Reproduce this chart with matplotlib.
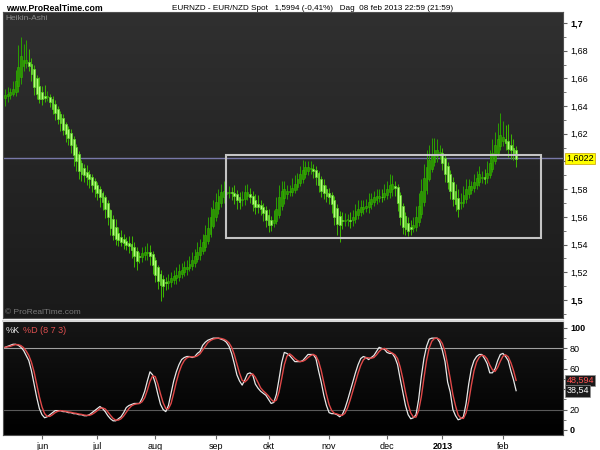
import numpy as np
import pandas as pd
import matplotlib
matplotlib.use('Agg')
import matplotlib.pyplot as plt
from matplotlib.colors import LinearSegmentedColormap
from matplotlib.patches import Rectangle

plt.rcParams['font.family'] = ['Liberation Sans', 'DejaVu Sans']

# Heikin-Ashi close per day (14 May 2012 .. 8 Feb 2013)
ha_close = [
    1.648, 1.649, 1.650, 1.652, 1.658, 1.668, 1.676, 1.673, 1.673, 1.669, 1.663, 1.654, 1.649, 1.645, 1.645,
    1.646, 1.647, 1.643, 1.638, 1.635, 1.631, 1.628, 1.623, 1.620, 1.617, 1.612, 1.605, 1.600, 1.593, 1.591,
    1.590, 1.589, 1.587, 1.583, 1.580, 1.577, 1.574, 1.571, 1.566, 1.560, 1.552, 1.547, 1.544, 1.543, 1.542,
    1.541, 1.540, 1.539, 1.536, 1.532, 1.528, 1.531, 1.534, 1.535, 1.535, 1.532, 1.525, 1.518, 1.514, 1.511,
    1.510, 1.512, 1.514, 1.516, 1.517, 1.518, 1.521, 1.522, 1.524, 1.524, 1.526, 1.529, 1.532, 1.535, 1.538,
    1.542, 1.547, 1.552, 1.560, 1.566, 1.571, 1.575, 1.578, 1.579, 1.578, 1.578, 1.577, 1.575, 1.572, 1.571,
    1.573, 1.578, 1.578, 1.574, 1.569, 1.567, 1.567, 1.566, 1.563, 1.558, 1.554, 1.554, 1.558, 1.566, 1.574,
    1.579, 1.580, 1.579, 1.578, 1.581, 1.584, 1.587, 1.591, 1.594, 1.596, 1.596, 1.595, 1.593, 1.589, 1.583,
    1.579, 1.577, 1.575, 1.574, 1.569, 1.560, 1.555, 1.554, 1.557, 1.558, 1.558, 1.557, 1.560, 1.564, 1.566,
    1.567, 1.567, 1.568, 1.571, 1.573, 1.574, 1.575, 1.575, 1.574, 1.577, 1.580, 1.583, 1.584, 1.581, 1.570,
    1.560, 1.553, 1.551, 1.550, 1.551, 1.554, 1.560, 1.568, 1.579, 1.588, 1.596, 1.601, 1.605, 1.608, 1.608,
    1.606, 1.599, 1.591, 1.585, 1.579, 1.573, 1.569, 1.566, 1.570, 1.576, 1.580, 1.582, 1.582, 1.585, 1.588,
    1.591, 1.589, 1.587, 1.592, 1.599, 1.606, 1.612, 1.616, 1.619, 1.618, 1.613, 1.609, 1.608, 1.606, 1.602,
]

# upper / lower shadow beyond the body, in pips
wick_up = [
    40, 50, 30, 60, 80, 160, 140, 120, 150, 90, 40, 30, 20, 60, 50,
    80, 40, 20, 20, 30, 20, 20, 30, 10, 20, 30, 20, 20, 20, 20,
    30, 50, 30, 20, 20, 20, 20, 20, 20, 20, 10, 30, 60, 40, 50,
    40, 30, 50, 60, 40, 30, 30, 40, 40, 60, 50, 20, 20, 20, 30,
    30, 40, 50, 40, 50, 60, 50, 50, 40, 50, 60, 60, 50, 70, 60,
    60, 70, 80, 70, 60, 60, 50, 60, 70, 50, 40, 40, 60, 30, 40,
    60, 50, 60, 40, 30, 40, 60, 40, 30, 30, 40, 30, 70, 80, 90,
    70, 60, 40, 50, 70, 60, 50, 60, 70, 40, 40, 50, 30, 30, 20,
    20, 40, 30, 30, 20, 30, 30, 40, 60, 50, 40, 60, 50, 50, 60,
    50, 50, 50, 60, 40, 50, 50, 50, 60, 70, 60, 80, 60, 40, 20,
    20, 20, 30, 40, 50, 60, 80, 90, 80, 100, 120, 110, 120, 90, 80,
    60, 40, 30, 30, 30, 40, 50, 60, 70, 60, 70, 50, 40, 60, 50,
    60, 40, 60, 80, 90, 100, 90, 120, 160, 110, 100, 120, 80, 60, 30,
]
wick_dn = [
    60, 40, 30, 20, 30, 40, 50, 30, 30, 40, 50, 60, 40, 30, 40,
    30, 30, 40, 40, 50, 40, 60, 40, 60, 50, 60, 80, 70, 60, 50,
    50, 60, 60, 50, 60, 50, 70, 60, 70, 60, 50, 40, 40, 40, 30,
    40, 40, 50, 60, 80, 60, 40, 40, 40, 50, 70, 60, 50, 60, 120,
    80, 50, 40, 40, 30, 40, 30, 30, 30, 40, 20, 30, 30, 20, 30,
    20, 30, 20, 20, 20, 30, 30, 30, 40, 40, 40, 50, 60, 60, 50,
    50, 40, 30, 40, 50, 50, 40, 50, 60, 50, 50, 40, 30, 20, 20,
    30, 40, 40, 30, 30, 20, 20, 20, 30, 30, 30, 40, 50, 60, 50,
    50, 40, 40, 50, 60, 60, 80, 120, 60, 40, 40, 50, 40, 30, 30,
    30, 30, 30, 40, 30, 30, 30, 30, 30, 20, 30, 40, 50, 60, 60,
    60, 50, 40, 40, 40, 30, 30, 30, 30, 30, 30, 20, 20, 30, 40,
    40, 50, 60, 50, 60, 50, 50, 60, 40, 30, 30, 30, 30, 30, 30,
    30, 40, 30, 30, 20, 20, 20, 20, 30, 40, 50, 60, 60, 50, 60,
]

# stochastic %K (8 7 3)
stoch_k = [
    81, 82, 83, 84, 84, 83, 81, 78, 73, 68, 58, 45, 32, 21, 15,
    12, 13, 15, 17, 19, 19, 19, 18, 18, 17, 17, 16, 16, 15, 15,
    14, 14, 15, 17, 19, 21, 23, 21, 18, 14, 11, 9, 9, 11, 13,
    17, 22, 24, 25, 26, 26, 26, 31, 38, 48, 57, 54, 46, 35, 25,
    20, 18, 24, 36, 48, 57, 64, 69, 71, 72, 72, 71, 72, 75, 77,
    83, 86, 88, 89, 90, 90, 90, 89, 88, 86, 82, 75, 65, 54, 48,
    44, 49, 55, 56, 54, 45, 41, 38, 36, 34, 30, 26, 27, 35, 50,
    66, 76, 75, 73, 70, 67, 67, 67, 68, 71, 74, 74, 74, 70, 58,
    47, 34, 24, 17, 16, 16, 15, 13, 15, 21, 29, 38, 47, 56, 64,
    70, 72, 71, 69, 71, 73, 77, 81, 80, 79, 76, 75, 75, 71, 64,
    50, 37, 24, 15, 11, 12, 15, 30, 52, 70, 82, 89, 90, 90, 90,
    86, 78, 67, 47, 37, 20, 14, 10, 11, 13, 26, 45, 60, 68, 72,
    74, 74, 70, 65, 56, 56, 60, 68, 74, 75, 72, 68, 58, 49.243, 38.54,
]

month_labels = ['jun', 'jul', 'aug', 'sep', 'okt', 'nov', 'dec', '2013', 'feb']
last_quote = 1.6022
box_start, box_end = 84, 203.5
box_low, box_high = 1.5447, 1.6047

dates = pd.bdate_range(end='2013-02-08', periods=len(ha_close))
n = len(dates)
x = np.arange(n)

c = np.array(ha_close)
o = np.empty(n)
o[0] = 1.646
for i in range(1, n):
    o[i] = (o[i - 1] + c[i - 1]) / 2
top = np.maximum(o, c)
bot = np.minimum(o, c)
hi = top + np.array(wick_up) / 10000
lo = bot - np.array(wick_dn) / 10000
up = c >= o

k = pd.Series(stoch_k, dtype=float)
d = k.rolling(3, min_periods=1).mean()

fig = plt.figure(figsize=(6, 4.5), dpi=100)
fig.patch.set_facecolor('white')

ax = fig.add_axes([3 / 600, 1 - 318 / 450, 560 / 600, 306 / 450])
ax2 = fig.add_axes([3 / 600, 1 - 435 / 450, 560 / 600, 114 / 450], sharex=ax)

grad = np.linspace(0, 1, 256).reshape(-1, 1)
ax.imshow(grad, extent=[0, 1, 0, 1], transform=ax.transAxes, aspect='auto', zorder=0,
          cmap=LinearSegmentedColormap.from_list('g1', ['#303030', '#1a1a1a']))
ax2.imshow(grad, extent=[0, 1, 0, 1], transform=ax2.transAxes, aspect='auto', zorder=0,
           cmap=LinearSegmentedColormap.from_list('g2', ['#161616', '#000000']))

# candles
ax.vlines(x[up], lo[up], hi[up], color='#2aa000', lw=0.7, zorder=2)
ax.vlines(x[~up], lo[~up], hi[~up], color='#3cb800', lw=0.7, zorder=2)
h = np.maximum(top - bot, 0.0007)
ax.bar(x[up], h[up], bottom=bot[up], width=0.7, color='#2a9600', edgecolor='#36b800', lw=0.4, zorder=3)
ax.bar(x[~up], h[~up], bottom=bot[~up], width=0.7, color='#b4ff7a', edgecolor='#5ed628', lw=0.5, zorder=3)

ax.axhline(last_quote, color='#7878a8', lw=1, zorder=1)
ax.add_patch(Rectangle((box_start, box_low), box_end - box_start, box_high - box_low,
                       fill=False, ec='#c4c4c4', lw=1.5, zorder=4))

ax.set_xlim(-0.8, 211.8)
ax.set_ylim(1.487, 1.7079)
ax.yaxis.tick_right()
price_ticks = np.arange(1.50, 1.701, 0.02)
ax.set_yticks(price_ticks)
ax.set_yticks(np.arange(1.49, 1.701, 0.01), minor=True)
# the 1,60 label sits under the yellow quote box
ax.set_yticklabels(['' if abs(v - 1.60) < 1e-6 else f'{v:.2f}'.rstrip('0').replace('.', ',')
                    for v in price_ticks])
for lab in ax.get_yticklabels():
    if lab.get_text() in ('1,5', '1,7'):
        lab.set_fontweight('bold')
        lab.set_fontsize(7.5)
ax.tick_params(axis='y', which='major', length=3, labelsize=6.5, color='#606060', pad=2)
ax.tick_params(axis='y', which='minor', length=2, color='#606060')
ax.tick_params(axis='x', bottom=False, labelbottom=False)
for s in ax.spines.values():
    s.set_color('#505050')

ax.text(0.004, 0.99, 'Heikin-Ashi', transform=ax.transAxes, color='#8a8a8a', fontsize=6, va='top')
ax.text(0.004, 0.008, '\u00a9 ProRealTime.com', transform=ax.transAxes, color='#7a7a7a', fontsize=6, va='bottom')
ax.text(1.006, last_quote, '1,6022', transform=ax.get_yaxis_transform(), fontsize=6.5, va='center', ha='left',
        color='black', bbox=dict(boxstyle='square,pad=0.15', fc='#ffff00', ec='#c8a000', lw=0.5), zorder=5)

# stochastic
ax2.axhline(80, color='#a0a0a0', lw=0.8, zorder=1)
ax2.axhline(20, color='#5a5a5a', lw=0.8, zorder=1)
ax2.plot(x, d, color='#e04848', lw=1.0, zorder=3)
ax2.plot(x, k, color='#e8e8e8', lw=0.9, zorder=2)
ax2.set_ylim(-4.9, 106.8)
ax2.yaxis.tick_right()
ax2.set_yticks([0, 20, 40, 60, 80, 100])
ax2.set_yticks(np.arange(0, 101, 10), minor=True)
# the 40 label is hidden behind the value boxes
ax2.set_yticklabels(['0', '20', '', '60', '80', '100'])
for lab in ax2.get_yticklabels():
    if lab.get_text() in ('0', '100'):
        lab.set_fontweight('bold')
        lab.set_fontsize(7.5)
ax2.tick_params(axis='y', which='major', length=3, labelsize=6.5, color='#606060', pad=2)
ax2.tick_params(axis='y', which='minor', length=2, color='#606060')
for s in ax2.spines.values():
    s.set_color('#505050')
ax2.spines['top'].set_color('#d8d8d8')
ax2.spines['top'].set_linewidth(1.5)

ax2.text(0.004, 0.96, '%K', transform=ax2.transAxes, color='#e8e8e8', fontsize=6.5, va='top')
ax2.text(0.035, 0.96, '%D (8 7 3)', transform=ax2.transAxes, color='#e05050', fontsize=6.5, va='top')
ax2.text(1.006, d.iloc[-1], f'{d.iloc[-1]:.3f}'.replace('.', ','), transform=ax2.get_yaxis_transform(),
         fontsize=6.5, va='center', ha='left', color='#ff5050',
         bbox=dict(boxstyle='square,pad=0.15', fc='#1a1a1a', ec='#909090', lw=0.5), zorder=5)
ax2.text(1.006, k.iloc[-1], f'{k.iloc[-1]:.2f}'.replace('.', ','), transform=ax2.get_yaxis_transform(),
         fontsize=6.5, va='center', ha='left', color='white',
         bbox=dict(boxstyle='square,pad=0.15', fc='#1a1a1a', ec='#909090', lw=0.5), zorder=5)

# month ticks at first trading day of each month
month_idx = [i for i in range(1, n) if dates[i].month != dates[i - 1].month]
ax2.set_xticks(month_idx)
ax2.set_xticklabels(month_labels)
for lab in ax2.get_xticklabels():
    if lab.get_text() == '2013':
        lab.set_fontweight('bold')
        lab.set_fontsize(7.5)
ax2.tick_params(axis='x', length=3, labelsize=6.5, color='#606060', pad=2)

fig.text(6 / 600, 1 - 8.5 / 450, 'www.ProRealTime.com', fontsize=6.3, fontweight='bold', va='center')
fig.text(172 / 600, 1 - 8.5 / 450,
         'EURNZD - EUR/NZD Spot   1,5994 (-0,41%)   Dag  08 feb 2013 22:59 (21:59)',
         fontsize=5.9, va='center')

fig.savefig('out.png', dpi=100)
